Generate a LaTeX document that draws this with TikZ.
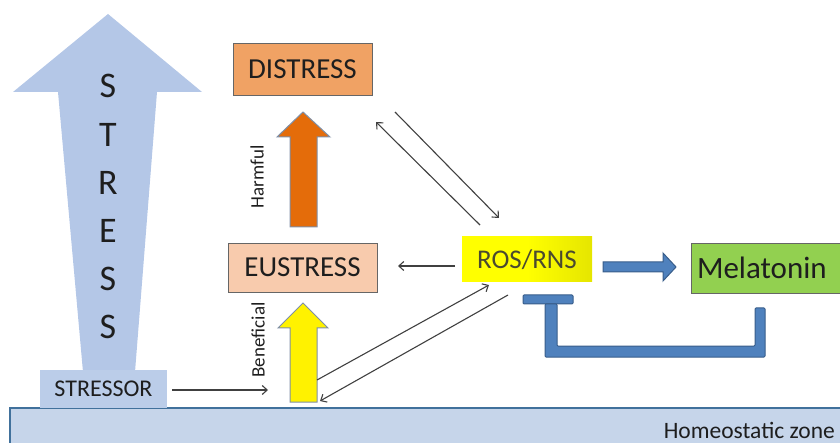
\documentclass[tikz,border=0pt]{standalone}
\usepackage{fontspec}
\setmainfont{Carlito}
\usetikzlibrary{arrows.meta}
\definecolor{stressblue}{HTML}{B4C7E7}
\definecolor{homefill}{HTML}{C6D5EA}
\definecolor{homeline}{HTML}{41719C}
\definecolor{distfill}{HTML}{F0A264}
\definecolor{eufill}{HTML}{F8CBAD}
\definecolor{orangearr}{HTML}{E46C0A}
\definecolor{arrborder}{HTML}{7F8FA6}
\definecolor{melfill}{HTML}{92D050}
\definecolor{bluefill}{HTML}{4F81BD}
\definecolor{blueline}{HTML}{385D8A}
\definecolor{txt}{HTML}{1E1E1E}
\definecolor{rostxt}{HTML}{4A4A30}
\tikzset{
  box/.style={draw=gray!80!black, line width=0.8pt, inner sep=0pt, text=txt},
  thin arr/.style={line width=1.1pt, draw=black!75, -{Straight Barb[length=5pt,width=9pt]}},
  fatarrow/.style={line width=1pt, draw=arrborder, line join=miter},
  bluebar/.style={fill=bluefill, draw=blueline, line width=1pt, rounded corners=1pt},
  letter/.style={text=txt, font=\fontsize{36}{38}\selectfont, inner sep=0pt},
}
\begin{document}
\begin{tikzpicture}[x=1pt,y=-1pt]
\useasboundingbox (0,0) rectangle (840,443);
\clip (0,0) rectangle (840,443);
% homeostatic zone
\fill[homefill] (10,408) rectangle (850,450);
\draw[homeline, line width=1.6pt] (10,450) -- (10,408) -- (850,408);
\node[anchor=east, text=txt, font=\fontsize{23.5}{26}\selectfont, inner sep=0pt] (home) at (835,430) {Homeostatic zone};
% big STRESS arrow
\fill[stressblue] (108,14) -- (202,92) -- (157,92) -- (135,372) -- (83,372) -- (58,92) -- (13,92) -- cycle;
\node[letter] (s1) at (108,86) {S};
\node[letter] (s2) at (108,135) {T};
\node[letter] (s3) at (108,183) {R};
\node[letter] (s4) at (108,231) {E};
\node[letter] (s5) at (108,279) {S};
\node[letter] (s6) at (108,327) {S};
\node[fill=stressblue!90!white, minimum width=127pt, minimum height=38pt, inner sep=0pt, text=txt, font=\fontsize{24}{26}\selectfont] (stressor) at (103.5,388.5) {STRESSOR};
% boxes
\node[box, fill=distfill, minimum width=139pt, minimum height=52pt, font=\fontsize{29}{31}\selectfont] (distress) at (302.5,69) {DISTRESS};
\node[box, fill=eufill, minimum width=149pt, minimum height=49pt, font=\fontsize{29}{31}\selectfont] (eustress) at (302.5,267.5) {EUSTRESS};
\node[inner sep=0pt, minimum width=130pt, minimum height=45pt, left color=yellow, right color=yellow!80!olive, middle color=yellow, text=rostxt, font=\fontsize{27}{30}\selectfont] (ros) at (527,259.5) {ROS/RNS};
\node[box, fill=melfill, minimum width=154pt, minimum height=50pt, font=\fontsize{31}{34}\selectfont, text width=154pt, align=left] (mel) at (768,268) {\hspace*{6pt}Melatonin};
% harmful / beneficial arrows
\draw[fatarrow, fill=orangearr] (303,112) -- (330,137) -- (317,137) -- (317,227) -- (290,227) -- (290,137) -- (277,137) -- cycle;
\node[rotate=90, text=txt, font=\fontsize{19}{22}\selectfont, inner sep=0pt] (harmful) at (257,177) {Harmful};
\draw[fatarrow, fill=yellow] (303,303) -- (328,328) -- (317,328) -- (317,402) -- (290,402) -- (290,328) -- (278,328) -- cycle;
\node[rotate=90, text=txt, font=\fontsize{19}{22}\selectfont, inner sep=0pt] (beneficial) at (258,340) {Beneficial};
% thin arrows
\coordinate (st1) at (172,390);
\coordinate (st2) at (268,390);
\draw[thin arr] (st1) -- (st2);
\coordinate (re1) at (455,266);
\coordinate (re2) at (398,266);
\draw[thin arr] (re1) -- (re2);
\coordinate (d1a) at (480,225);
\coordinate (d1b) at (376,122);
\draw[thin arr] (d1a) -- (d1b);
\coordinate (d2a) at (395,112);
\coordinate (d2b) at (499,218);
\draw[thin arr] (d2a) -- (d2b);
\coordinate (b1a) at (317,380);
\coordinate (b1b) at (489,285);
\draw[thin arr] (b1a) -- (b1b);
\coordinate (b2a) at (508,295);
\coordinate (b2b) at (320,401);
\draw[thin arr] (b2a) -- (b2b);
% blue arrow ROS -> Melatonin
\draw[bluebar, rounded corners=0pt] (603,262) -- (663,262) -- (663,253) -- (676,267) -- (663,281) -- (663,272) -- (603,272) -- cycle;
% inhibition
\draw[bluebar] (523,295) rectangle (573,304);
\draw[bluebar] (545,304) -- (557,304) -- (557,346) -- (755,346) -- (755,308) -- (765,308) -- (765,357) -- (545,357) -- cycle;
\end{tikzpicture}
\end{document}
